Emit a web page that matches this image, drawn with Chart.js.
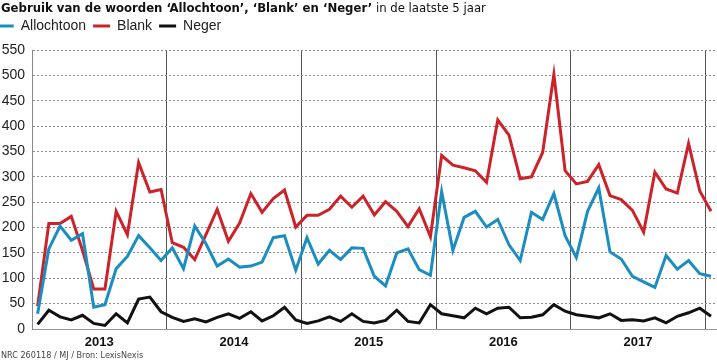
<!DOCTYPE html>
<html>
<head>
<meta charset="utf-8">
<script src="https://cdn.jsdelivr.net/npm/chart.js@4/dist/chart.umd.min.js"></script>
<style>
  html, body { margin: 0; padding: 0; background: #ffffff; }
  #wrap { position: relative; width: 717px; height: 361px; overflow: hidden; }
  #title { position: absolute; left: 1px; top: 0px; font-family: 'DejaVu Sans Condensed', 'Liberation Sans Narrow', 'Liberation Sans', sans-serif; font-size: 13px; color: #111; white-space: nowrap; line-height: 15px; }
  #title b { font-weight: bold; }
  #source { position: absolute; left: 1px; top: 349px; font-family: 'DejaVu Sans Condensed', 'Liberation Sans Narrow', 'Liberation Sans', sans-serif; font-size: 9px; color: #444; white-space: nowrap; line-height: 12px; }
  canvas { position: absolute; left: 0; top: 0; }
</style>
</head>
<body>
<div id="wrap">
  <canvas id="c" width="717" height="361"></canvas>
  <div id="title"><b>Gebruik van de woorden ‘Allochtoon’, ‘Blank’ en ‘Neger’</b> in de laatste 5 jaar</div>
  <div id="source">NRC 260118 / MJ / Bron: LexisNexis</div>
</div>
<script>
// ---- data ----
const years = ['2013', '2014', '2015', '2016', '2017'];
const monthNames = ['jan', 'feb', 'mrt', 'apr', 'mei', 'jun', 'jul', 'aug', 'sep', 'okt', 'nov', 'dec'];
const seriesNames = ['Allochtoon', 'Blank', 'Neger'];

const allochtoon = [
  30, 158, 203, 175, 188, 43, 48, 119, 143, 184, 160, 135,
  160, 119, 203, 168, 124, 138, 122, 124, 132, 180, 184, 116,
  180, 128, 155, 137, 160, 159, 104, 85, 150, 158, 117, 106,
  271, 155, 220, 232, 201, 216, 166, 135, 230, 216, 267, 184,
  141, 232, 278, 152, 138, 104, 93, 82, 145, 118, 135, 109,
  104
];
const blank = [
  45, 208, 208, 222, 155, 79, 79, 232, 186, 328, 270, 275,
  170, 161, 137, 186, 236, 173, 209, 267, 230, 257, 274, 201,
  224, 224, 236, 262, 240, 262, 225, 251, 232, 202, 237, 182,
  342, 323, 318, 312, 289, 412, 382, 296, 300, 348, 502, 312,
  286, 291, 324, 263, 255, 234, 191, 309, 276, 268, 366, 272,
  232
];
const neger = [
  9, 37, 24, 18, 27, 11, 7, 30, 12, 59, 63, 34,
  23, 15, 20, 14, 23, 30, 21, 34, 16, 26, 43, 18,
  11, 16, 24, 15, 30, 15, 12, 17, 37, 15, 12, 48,
  30, 26, 22, 41, 30, 41, 43, 22, 23, 28, 48, 35,
  28, 25, 22, 30, 17, 18, 16, 22, 12, 25, 32, 41,
  25
];
const yTicks = [0, 50, 100, 150, 200, 250, 300, 350, 400, 450, 500, 550];

// ---- categories built from years/months ----
const categories = [];
years.concat(['2018']).forEach(y => monthNames.forEach(m => categories.push(m + ' ' + y)));
categories.length = allochtoon.length;

const colors = ['#1b8dc0', '#cc2229', '#111111'];
const regular = "'Liberation Sans', Arial, sans-serif";

const legendTweak = {
  id: 'legendTweak',
  beforeUpdate(chart) {
    const lg = chart.legend;
    if (lg && !lg._patched) {
      const origFit = lg.fit;
      lg.fit = function () { origFit.apply(this, arguments); this.height = 38; };
      lg._patched = true;
    }
  },
  afterLayout(chart) { if (chart.legend) { chart.legend.left = -10.3; } }
};

new Chart(document.getElementById('c'), {
  type: 'line',
  data: {
    labels: categories,
    datasets: [allochtoon, blank, neger].map((d, i) => ({
      label: seriesNames[i],
      data: d,
      borderColor: colors[i],
      backgroundColor: colors[i],
      borderWidth: 3,
      pointRadius: 0,
      tension: 0,
      fill: false,
      borderJoinStyle: 'miter'
    }))
  },
  options: {
    responsive: false,
    animation: false,
    layout: { padding: { top: 12, left: 0, right: 0, bottom: 0 } },
    plugins: {
      title: { display: false },
      tooltip: { enabled: false },
      legend: {
        display: true,
        position: 'top',
        align: 'start',
        labels: {
          font: { family: regular, size: 14 },
          color: '#222',
          boxWidth: 17,
          boxHeight: 3,
          padding: 7,
          generateLabels(chart) {
            return chart.data.datasets.map((ds, i) => ({
              text: ds.label,
              fillStyle: ds.borderColor,
              strokeStyle: ds.borderColor,
              lineWidth: 0,
              fontColor: '#222',
              hidden: false,
              datasetIndex: i
            }));
          }
        }
      }
    },
    scales: {
      x: {
        type: 'category',
        offset: true,
        afterFit(s) { s.height = 32; },
        grid: {
          display: true,
          offset: true,
          drawTicks: false,
          lineWidth: 1,
          color(ctx) { return (ctx.index > 0 && ctx.index % 12 === 0) ? '#555555' : 'rgba(0,0,0,0)'; }
        },
        border: { display: true, color: '#999999', width: 1 },
        ticks: {
          autoSkip: false,
          maxRotation: 0,
          minRotation: 0,
          padding: 6,
          color: '#111',
          font: { family: regular, size: 13, weight: 'bold' },
          labelOffset: 5.6,
          callback(value, index) { return index % 12 === 5 && index < 60 ? years[Math.floor(index / 12)] : ''; }
        }
      },
      y: {
        min: 0,
        max: 550,
        afterFit(s) { s.width = 32; },
        afterBuildTicks(s) { s.ticks = yTicks.map(v => ({ value: v })); },
        grid: { display: true, drawTicks: false, color: '#8a8a8a', lineWidth: 1 },
        border: { display: true, color: '#888888', width: 1, dash: [2, 2] },
        ticks: {
          padding: 7,
          color: '#222',
          font: { family: regular, size: 14 },
          callback(v) { return String(v); }
        }
      }
    }
  },
  plugins: [legendTweak]
});
</script>
</body>
</html>
